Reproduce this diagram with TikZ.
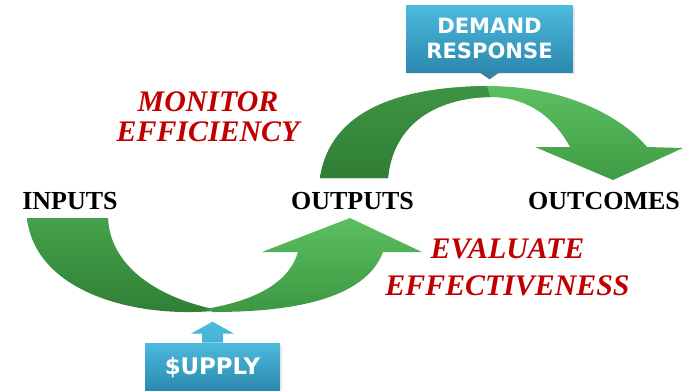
\documentclass[tikz,border=0pt]{standalone}
\usepackage{fontspec}
\setmainfont{Liberation Serif}
\newfontfamily\boxfont{DejaVu Sans}
\usetikzlibrary{positioning,calc,shadows}
\definecolor{greendark}{HTML}{2F7D34}
\definecolor{greenmid}{HTML}{3F9444}
\definecolor{greenbright}{HTML}{45A24B}
\definecolor{greenlight}{HTML}{5CBF60}
\definecolor{greenbase}{HTML}{3C9842}
\definecolor{bluetop}{HTML}{4DBADE}
\definecolor{bluebottom}{HTML}{2B88AE}
\definecolor{bluetip}{HTML}{3E7E99}
\definecolor{labelred}{HTML}{C00000}
\tikzset{
  stage/.style={font=\fontsize{14.8}{16}\selectfont\bfseries, text=black, inner sep=0pt, anchor=base},
  action/.style={font=\bfseries\itshape, text=labelred, align=center, inner sep=0pt},
  driverbox/.style={top color=bluetop, bottom color=bluebottom, text=white, align=center, inner sep=0pt,
    drop shadow={opacity=0.2, shadow xshift=1pt, shadow yshift=-1pt}},
}

\begin{document}
\begin{tikzpicture}[x=0.02cm, y=-0.02cm]
    \clip (0,0) rectangle (687,390);

    % === Bottom curve: inputs -> outputs ===
    \shade[top color=greenbright, bottom color=greendark]
        (27,218) -- (108,218) .. controls (110,262) and (150,295) .. (213,309)
        -- (213,311) .. controls (130,318) and (35,290) .. (27,218) -- cycle;
    \shade[top color=greenlight, bottom color=greenbase]
        (205,309) .. controls (260,300) and (290,280) .. (298,252)
        -- (262,252) -- (350,218) -- (422,252) -- (383,252)
        .. controls (365,300) and (290,312) .. (213,312) -- cycle;

    % === Top arch: outputs -> outcomes ===
    \shade[top color=greenlight, bottom color=greenbase!90!greenlight]
        (320,178) .. controls (330,110) and (400,87) .. (487,86)
        .. controls (570,86) and (625,120) .. (647,147)
        -- (683,148) -- (613,180) -- (535,147) -- (570,147)
        .. controls (550,110) and (520,97) .. (490,97)
        .. controls (435,98) and (393,125) .. (388,178) -- cycle;
    \shade[top color=greenmid, bottom color=greendark]
        (320,178) .. controls (330,110) and (400,87) .. (487,86)
        -- (490,97) .. controls (435,98) and (393,125) .. (388,178) -- cycle;

    % Stages
    \node[stage] (inputs) at (70,209) {INPUTS};
    \node[stage] (outputs) at (352.5,209) {OUTPUTS};
    \node[stage] (outcomes) at (604,209) {OUTCOMES};

    % Actions
    \node[action, font=\fontsize{17}{17}\selectfont\bfseries\itshape] (monitor) at (208,116.5) {MONITOR\\EFFICIENCY};
    \node[action, font=\fontsize{17}{21}\selectfont\bfseries\itshape] (evaluate) at (507.5,267.5) {EVALUATE\\EFFECTIVENESS};

    % Demand response
    \node[driverbox, minimum width=3.34cm, minimum height=1.34cm,
          font=\boxfont\bfseries\fontsize{12}{14.7}\selectfont] (demand) at (489.5,38.5) {DEMAND\\RESPONSE};
    \fill[bluetip] ($(demand.south)+(-10,0)$) -- ($(demand.south)+(10,0)$) -- ($(demand.south)+(0,7)$) -- cycle;

    % Supply
    \node[driverbox, minimum width=2.7cm, minimum height=0.96cm,
          font=\boxfont\bfseries\fontsize{13}{15}\selectfont] (supply) at (212.5,367) {\$UPPLY};
    \shade[top color=bluetop, bottom color=bluetop!85!bluebottom]
        ($(supply.north)+(-10.5,0)$) -- ++(0,-9) -- ++(-11,0) -- ($(supply.north)+(0,-21)$)
        -- ($(supply.north)+(21.5,-9)$) -- ++(-11,0) -- ++(0,9) -- cycle;
\end{tikzpicture}
\end{document}
